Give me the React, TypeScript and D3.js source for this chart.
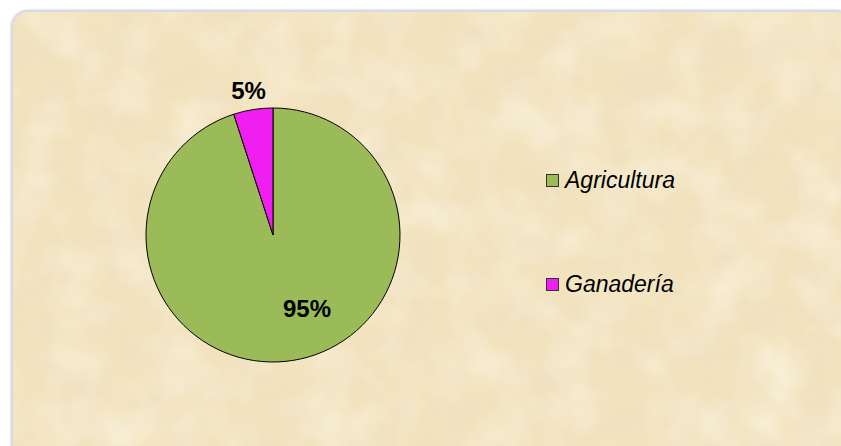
import React from "react";
import * as d3 from "d3";

const categories = ["Agricultura", "Ganadería"];
const values = [95, 5];
const labels = ["95%", "5%"];
const colors = ["#9BBB59", "#F01EF0"];

const W = 841;
const H = 446;

export default function App() {
  const cx = 273;
  const cy = 235;
  const r = 127;
  const pie = d3.pie<number>().sort(null)(values);
  const arc = d3.arc<d3.PieArcDatum<number>>().innerRadius(0).outerRadius(r);
  const labelPos = [
    [34, 82],
    [-24.5, -136],
  ];
  const legendY = d3.scalePoint<string>().domain(categories).range([181, 285]);
  return (
    <svg width={W} height={H} style={{ position: "fixed", left: 0, top: 0 }}>
      <defs>
        <filter id="tex" x="0" y="0" width="100%" height="100%">
          <feTurbulence type="fractalNoise" baseFrequency="0.03" numOctaves="4" seed="11" result="n" />
          <feColorMatrix
            in="n"
            type="matrix"
            values="0 0 0 0 0.84  0 0 0 0 0.74  0 0 0 0 0.55  1.6 0 0 0 -0.62"
            result="c"
          />
          <feComposite in="c" in2="SourceGraphic" operator="in" />
        </filter>
        <filter id="tex2" x="0" y="0" width="100%" height="100%">
          <feTurbulence type="fractalNoise" baseFrequency="0.02" numOctaves="3" seed="3" result="n" />
          <feColorMatrix
            in="n"
            type="matrix"
            values="0 0 0 0 0.99  0 0 0 0 0.96  0 0 0 0 0.86  -1.6 0 0 0 0.95"
            result="c"
          />
          <feComposite in="c" in2="SourceGraphic" operator="in" />
        </filter>
        <filter id="sh" x="-5%" y="-5%" width="110%" height="110%">
          <feDropShadow dx="0" dy="0" stdDeviation="1.2" floodColor="#8890a0" floodOpacity="0.5" />
        </filter>
      </defs>
      <rect x={0} y={0} width={W} height={H} fill="#ffffff" />
      <rect x={12} y={11} width={840} height={450} rx={16} fill="#F2E3BE" stroke="#D8DADF" strokeWidth={2} filter="url(#sh)" />
      <rect x={13} y={12} width={838} height={448} rx={15} fill="#F2E3BE" filter="url(#tex)" opacity={0.6} />
      <rect x={13} y={12} width={838} height={448} rx={15} fill="#F2E3BE" filter="url(#tex2)" opacity={0.6} />
      <g transform={`translate(${cx},${cy})`}>
        {pie.map((p, i) => (
          <path key={categories[i]} d={arc(p) || ""} fill={colors[i]} stroke="#000" strokeWidth={1} />
        ))}
        {pie.map((p, i) => (
          <text
            key={"l" + i}
            x={labelPos[i][0]}
            y={labelPos[i][1]}
            textAnchor="middle"
            fontFamily="Arial, 'Liberation Sans', sans-serif"
            fontWeight="bold"
            fontSize={24}
            fill="#000"
          >
            {labels[i]}
          </text>
        ))}
      </g>
      {categories.map((c, i) => (
        <g key={c} transform={`translate(546,${legendY(c)})`}>
          <rect x={0.5} y={-6.5} width={12} height={12} fill={colors[i]} stroke="#333" strokeWidth={1} />
          <text
            x={19}
            y={7}
            fontFamily="Arial, 'Liberation Sans', sans-serif"
            fontStyle="italic"
            fontSize={23}
            fill="#000"
          >
            {c}
          </text>
        </g>
      ))}
    </svg>
  );
}
